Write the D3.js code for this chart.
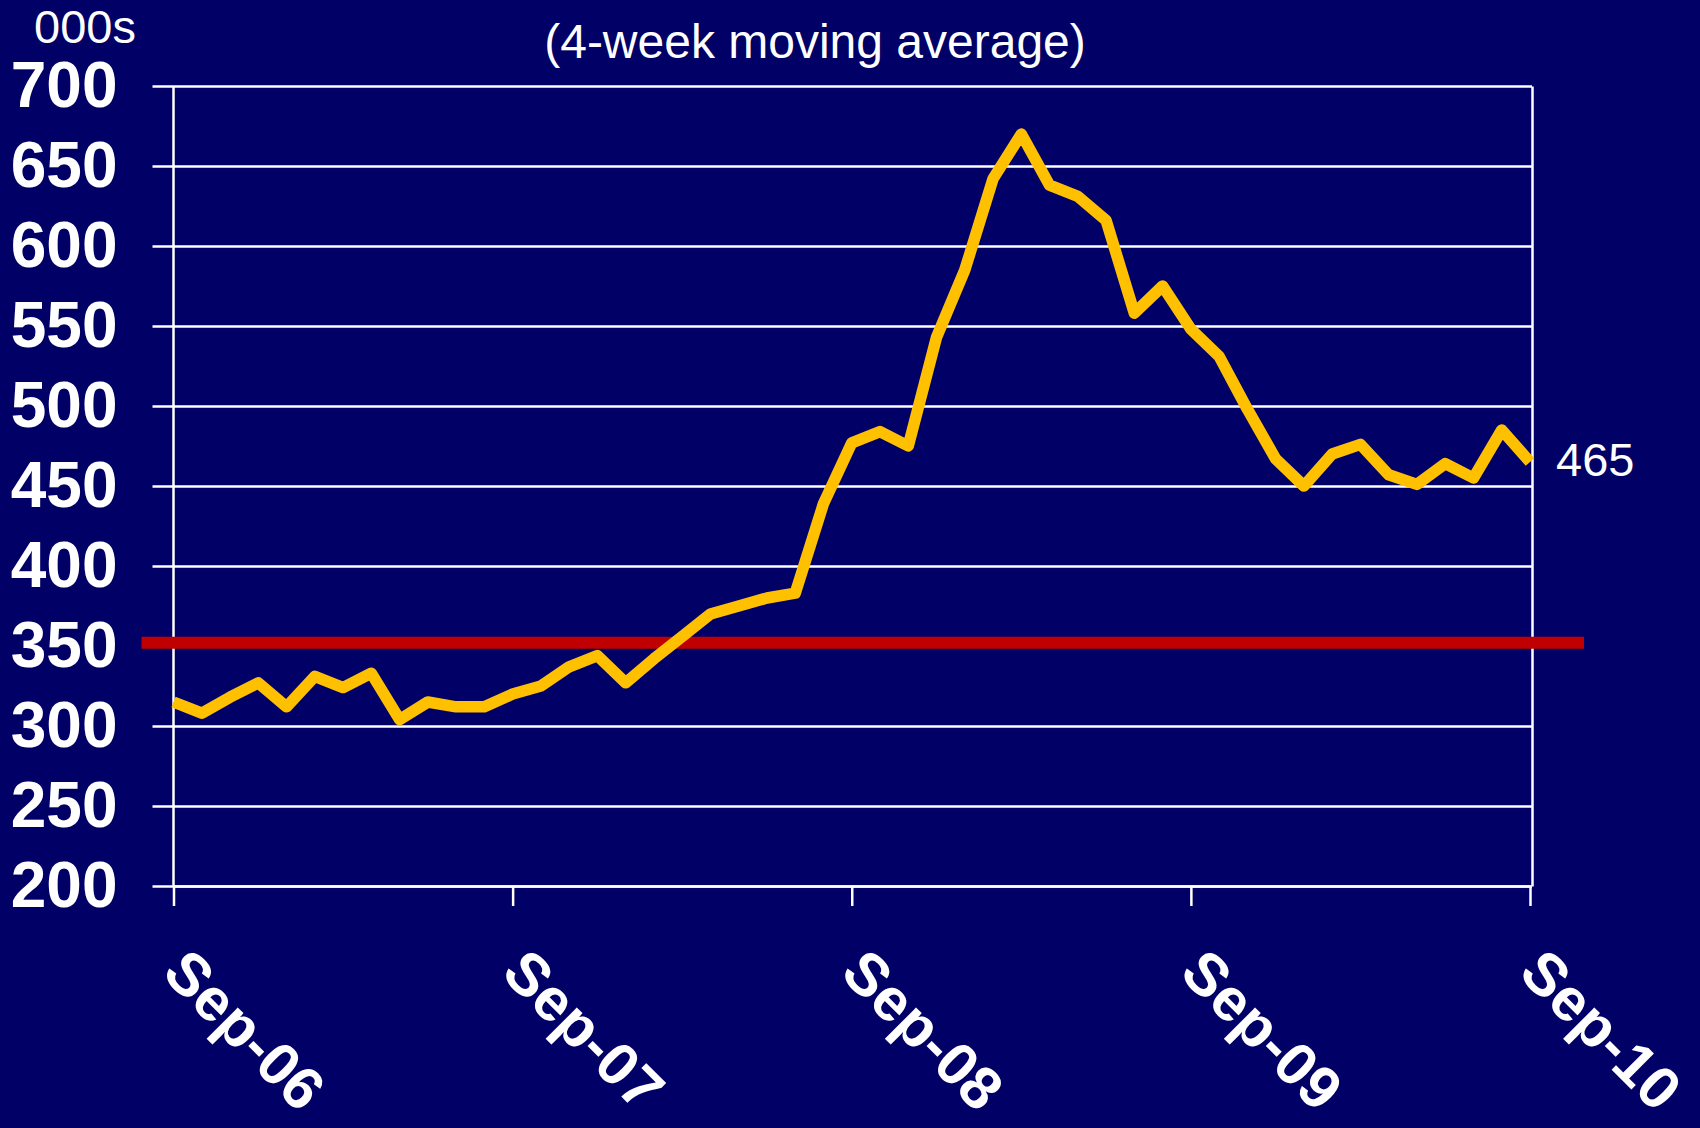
<!DOCTYPE html>
<html>
<head>
<meta charset="utf-8">
<script src="https://cdn.jsdelivr.net/npm/d3@7"></script>
<style>
  html, body { margin: 0; padding: 0; background: #000066; }
  svg { display: block; }
  text { font-family: "Liberation Sans", Arial, sans-serif; fill: #fff; }
</style>
</head>
<body>
<script>
// monthly points, Sep-06 .. Sep-10 (000s)
const claims = [
  315, 308, 318, 327, 312, 331, 324, 333, 304, 315, 312, 312, 320,
  325, 337, 344, 327, 342, 356, 370, 375, 380, 383, 439, 477,
  484, 475, 543, 585, 642, 670, 638, 631, 616, 558, 575, 548,
  531, 498, 467, 450, 470, 476, 457, 451, 464, 455, 485, 465
];
const tickMonths = [0, 12, 24, 36, 48];
const tickLabels = ["Sep-06", "Sep-07", "Sep-08", "Sep-09", "Sep-10"];
const yTicks = [200, 250, 300, 350, 400, 450, 500, 550, 600, 650, 700];
const threshold = 352;
const lastLabel = "465";

const width = 1700;
const height = 1128;
const margin = { top: 86, right: 170, bottom: 242, left: 173.5 };

const svg = d3.select("body").append("svg")
  .attr("width", width)
  .attr("height", height);

svg.append("rect")
  .attr("width", width)
  .attr("height", height)
  .attr("fill", "#000066");

const x = d3.scaleLinear()
  .domain([0, claims.length - 1])
  .range([margin.left, width - margin.right]);

const y = d3.scaleLinear()
  .domain([200, 700])
  .range([height - margin.bottom, margin.top]);

const plotRight = x(claims.length - 1) + 2;
const gridOut = 21;

// gridlines + y labels, axis hung on the right edge so lines run leftwards
const yAxis = svg.append("g")
  .attr("transform", `translate(${plotRight},0)`)
  .call(d3.axisLeft(y)
    .tickValues(yTicks)
    .tickSize(plotRight - x(0) + gridOut)
    .tickSizeOuter(0)
    .tickPadding(35)
    .tickFormat(d3.format("d")));

yAxis.select(".domain").attr("stroke", "#fff").attr("stroke-width", 2.5);
yAxis.selectAll(".tick line").attr("stroke", "#fff").attr("stroke-width", 2.5);
yAxis.selectAll(".tick text")
  .attr("fill", "#fff")
  .style("font-family", "'Liberation Sans', Arial, sans-serif")
  .style("font-size", "64px")
  .style("font-weight", "bold");

// x axis ticks (labels drawn rotated below)
const xAxis = svg.append("g")
  .attr("transform", `translate(0,${y(200)})`)
  .call(d3.axisBottom(x)
    .tickValues(tickMonths)
    .tickSize(20)
    .tickSizeOuter(0)
    .tickFormat(""));
xAxis.select(".domain").attr("stroke", "#fff").attr("stroke-width", 2.5);
xAxis.selectAll(".tick line").attr("stroke", "#fff").attr("stroke-width", 2.5);

// left vertical axis line
svg.append("line")
  .attr("x1", x(0)).attr("x2", x(0))
  .attr("y1", y(700)).attr("y2", y(200))
  .attr("stroke", "#fff")
  .attr("stroke-width", 2.5);

svg.append("g")
  .selectAll("text")
  .data(tickMonths)
  .join("text")
  .attr("transform", d => `translate(${x(d) - 13},${y(200) + 89}) rotate(45)`)
  .attr("text-anchor", "start")
  .style("font-size", "60px")
  .style("font-weight", "bold")
  .text((d, i) => tickLabels[i]);

// threshold line
svg.append("line")
  .attr("x1", x(0) - 32)
  .attr("x2", x(claims.length - 1) + 54)
  .attr("y1", y(threshold))
  .attr("y2", y(threshold))
  .attr("stroke", "#C00000")
  .attr("stroke-width", 12);

// main series
const line = d3.line()
  .x((d, i) => x(i))
  .y(d => y(d));

svg.append("path")
  .datum(claims)
  .attr("fill", "none")
  .attr("stroke", "#FFC000")
  .attr("stroke-width", 11.5)
  .attr("stroke-linejoin", "round")
  .attr("d", line);

// end label
svg.append("text")
  .attr("x", x(claims.length - 1) + 26)
  .attr("y", y(claims[claims.length - 1]) + 14)
  .style("font-size", "47px")
  .text(lastLabel);

svg.append("text")
  .attr("x", 34)
  .attr("y", 43)
  .style("font-size", "47px")
  .text("000s");

svg.append("text")
  .attr("x", 815)
  .attr("y", 58)
  .attr("text-anchor", "middle")
  .style("font-size", "48px")
  .text("(4-week moving average)");
</script>
</body>
</html>
